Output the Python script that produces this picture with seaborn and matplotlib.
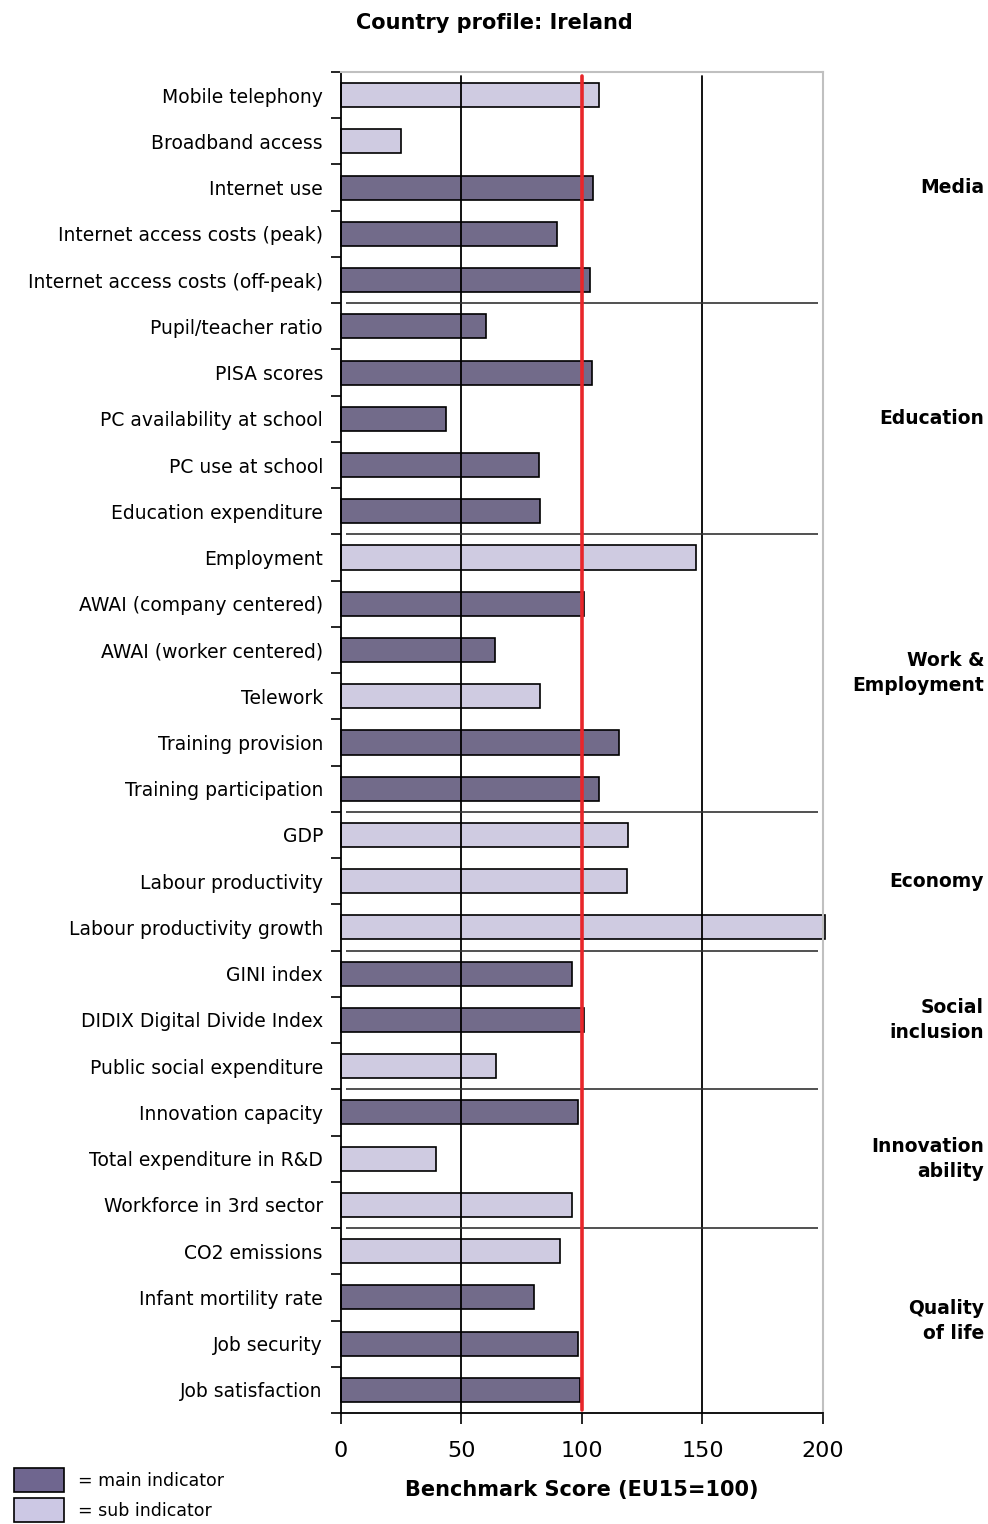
import pandas as pd
import numpy as np
import matplotlib.pyplot as plt
import matplotlib.transforms as mtransforms
from matplotlib.patches import Patch
import seaborn as sns

# indicator names, top to bottom
indicators = [
    "Mobile telephony", "Broadband access", "Internet use",
    "Internet access costs (peak)", "Internet access costs (off-peak)",
    "Pupil/teacher ratio", "PISA scores", "PC availability at school",
    "PC use at school", "Education expenditure",
    "Employment", "AWAI (company centered)", "AWAI (worker centered)",
    "Telework", "Training provision", "Training participation",
    "GDP", "Labour productivity", "Labour productivity growth",
    "GINI index", "DIDIX Digital Divide Index", "Public social expenditure",
    "Innovation capacity", "Total expenditure in R&D", "Workforce in 3rd sector",
    "CO2 emissions", "Infant mortility rate", "Job security", "Job satisfaction",
]
scores = [
    107, 25, 104.5, 89.5, 103.5,
    60, 104, 43.5, 82, 82.5,
    147.5, 101, 64, 82.5, 115.5, 107,
    119, 118.5, 201,
    96, 101, 64.5,
    98.5, 39.5, 96,
    91, 80, 98.5, 99,
]
kinds = [
    "sub", "sub", "main", "main", "main",
    "main", "main", "main", "main", "main",
    "sub", "main", "main", "sub", "main", "main",
    "sub", "sub", "sub",
    "main", "main", "sub",
    "main", "sub", "sub",
    "sub", "main", "main", "main",
]
groups = ["Media", "Education", "Work &\nEmployment", "Economy",
          "Social\ninclusion", "Innovation\nability", "Quality\nof life"]
group_sizes = [5, 5, 6, 3, 3, 3, 4]
x_ticks = [0, 50, 100, 150, 200]

main_color = "#6f668f"
sub_color = "#ccc8e4"


def main():
    df = pd.DataFrame({"Indicator": indicators, "Score": scores, "Kind": kinds})

    sns.set_theme(style="white")
    plt.rcParams["font.family"] = ["DejaVu Sans"]
    for key in ("text.color", "axes.labelcolor", "xtick.color", "ytick.color"):
        plt.rcParams[key] = "black"

    fig = plt.figure(figsize=(9.88, 15.24), dpi=100)
    ax = fig.add_axes([0.3451, 0.0728, 0.4879, 0.88])

    sns.barplot(data=df, y="Indicator", x="Score", hue="Kind",
                palette={"main": main_color, "sub": sub_color},
                dodge=False, width=0.52, edgecolor="black", linewidth=1.2,
                orient="h", legend=False, ax=ax, zorder=2)
    for p in ax.patches:
        p.set_clip_on(False)

    ax.set_xlim(0, 200)
    ax.set_ylim(len(indicators) - 0.5, -0.5)

    # reference lines
    for v in (50, 150):
        ax.axvline(v, ymin=0, ymax=0.997, color="black", lw=1.3, zorder=3)
    ax.axvline(100, ymin=0.002, ymax=0.997, color="#e8262a", lw=2.6, zorder=4)

    # group separators
    bounds = np.cumsum(group_sizes)[:-1]
    for b in bounds:
        ax.hlines(b - 0.5, 2, 198, color="#333333", lw=1.2, zorder=3)

    # group labels on the right
    trans = mtransforms.blended_transform_factory(fig.transFigure, ax.transData)
    start = 0
    for name, size in zip(groups, group_sizes):
        centre = start + (size - 1) / 2
        ax.text(0.996, centre, name, transform=trans, ha="right", va="center",
                fontsize=13.5, fontweight="bold", linespacing=1.4)
        start += size

    # spines
    for side in ("top", "right"):
        ax.spines[side].set_color("#c0c0c0")
        ax.spines[side].set_linewidth(1.5)
    for side in ("left", "bottom"):
        ax.spines[side].set_color("black")
        ax.spines[side].set_linewidth(1.3)

    # ticks
    ax.set_xticks(x_ticks)
    ax.set_xticklabels([str(t) for t in x_ticks], fontsize=16)
    ax.tick_params(axis="x", direction="out", length=8, width=1.2, pad=12,
                   bottom=True)
    ax.set_yticks(range(len(indicators)))
    ax.set_yticklabels(indicators, fontsize=13.5)
    ax.tick_params(axis="y", length=0, pad=13)
    ax.set_yticks(np.arange(-0.5, len(indicators), 1), minor=True)
    ax.tick_params(axis="y", which="minor", direction="out", length=7,
                   width=1.2, left=True)

    ax.set_ylabel("")
    ax.set_xlabel("Benchmark Score (EU15=100)", fontsize=15, fontweight="bold",
                  labelpad=14)

    fig.text(0.5, 0.985, "Country profile: Ireland", ha="center", va="center",
             fontsize=15, fontweight="bold")

    handles = [Patch(facecolor=main_color, edgecolor="black", lw=1.2),
               Patch(facecolor=sub_color, edgecolor="black", lw=1.2)]
    fig.legend(handles, ["= main indicator", "= sub indicator"],
               loc="lower left", bbox_to_anchor=(0.0, -0.008), frameon=False,
               fontsize=12.5, handlelength=2.9, handleheight=1.75,
               labelspacing=0.35, handletextpad=0.8, borderpad=0.3)

    fig.savefig("out.png", dpi=100)


if __name__ == "__main__":
    main()
